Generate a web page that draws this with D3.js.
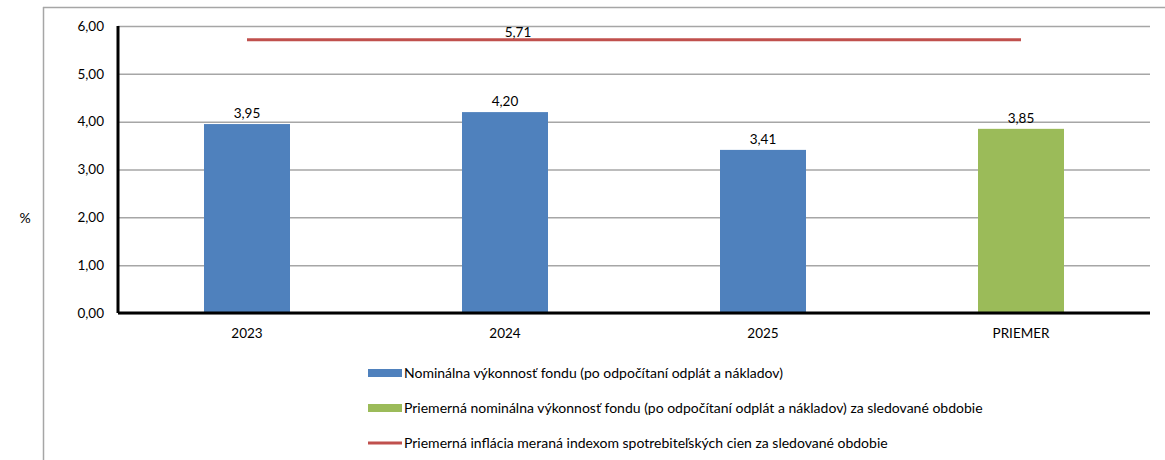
<!DOCTYPE html>
<html>
<head>
  <meta charset="utf-8">
  <script src="https://d3js.org/d3.v7.min.js"></script>
  <style>
    body { margin: 0; background: white; }
    text { font-family: Lato, "Open Sans", sans-serif; fill: #000; }
    .tick text { font-size: 13.5px; }
    .grid line { stroke: #a6a6a6; stroke-width: 1.5px; }
    .legend text { font-size: 14px; }
  </style>
</head>
<body>
  <svg id="chart" width="1165" height="460"></svg>
  <script>
    // chart data
    const categories = ["2023", "2024", "2025", "PRIEMER"];
    const performance = [3.95, 4.20, 3.41, 3.85];
    const barColors = ["#4F81BD", "#4F81BD", "#4F81BD", "#9BBB59"];
    const inflation = 5.71;
    const yTicks = [0, 1, 2, 3, 4, 5, 6];
    const legendItems = [
      { label: "Nominálna výkonnosť fondu (po odpočítaní odplát a nákladov)", type: "rect", color: "#4F81BD" },
      { label: "Priemerná nominálna výkonnosť fondu (po odpočítaní odplát a nákladov) za sledované obdobie", type: "rect", color: "#9BBB59" },
      { label: "Priemerná inflácia meraná indexom spotrebiteľských cien za sledované obdobie", type: "line", color: "#C0504D" }
    ];

    const svg = d3.select("#chart");
    const margin = { top: 26, left: 118, right: 15, bottom: 147 };
    const width = 1165 - margin.left - margin.right;
    const height = 460 - margin.top - margin.bottom;
    const fmt = v => d3.format(".2f")(v).replace(".", ",");

    // outer frame (left + top)
    svg.append("line").attr("x1", 43.5).attr("x2", 43.5).attr("y1", 7).attr("y2", 460)
      .attr("stroke", "#a6a6a6").attr("stroke-width", 1.5);
    svg.append("line").attr("x1", 43).attr("x2", 1165).attr("y1", 7.5).attr("y2", 7.5)
      .attr("stroke", "#a6a6a6").attr("stroke-width", 1.5);

    const g = svg.append("g").attr("transform", `translate(${margin.left},${margin.top})`);

    const x = d3.scaleBand().domain(categories).range([0, width]).padding(0);
    const y = d3.scaleLinear().domain([0, 6]).range([height, 0]);

    // gridlines
    g.append("g").attr("class", "grid")
      .call(d3.axisLeft(y).tickValues(yTicks).tickSize(-width).tickFormat(""))
      .call(s => s.select(".domain").remove());

    // y axis labels
    g.append("g")
      .call(d3.axisLeft(y).tickValues(yTicks).tickSize(0).tickPadding(14).tickFormat(fmt))
      .call(s => s.select(".domain").remove());

    const barW = x.bandwidth() / 3;

    g.selectAll("rect.bar").data(performance)
      .join("rect")
      .attr("class", "bar")
      .attr("x", (d, i) => x(categories[i]) + x.bandwidth() / 2 - barW / 2)
      .attr("y", d => y(d))
      .attr("width", barW)
      .attr("height", d => y(0) - y(d))
      .attr("fill", (d, i) => barColors[i]);

    g.selectAll("text.val").data(performance)
      .join("text")
      .attr("class", "val")
      .attr("x", (d, i) => x(categories[i]) + x.bandwidth() / 2)
      .attr("y", d => y(d) - 6)
      .attr("text-anchor", "middle")
      .style("font-size", "13.5px")
      .text(fmt);

    // inflation line across category centers
    const first = x(categories[0]) + x.bandwidth() / 2;
    const last = x(categories[categories.length - 1]) + x.bandwidth() / 2;
    g.append("line")
      .attr("x1", first).attr("x2", last)
      .attr("y1", y(inflation)).attr("y2", y(inflation))
      .attr("stroke", "#C0504D").attr("stroke-width", 3);
    g.append("text")
      .attr("x", x(categories[1]) + x.bandwidth() / 2 + 13)
      .attr("y", y(inflation) - 3)
      .attr("text-anchor", "middle")
      .style("font-size", "13.5px")
      .text(fmt(inflation));

    // axes lines
    g.append("line").attr("x1", 0).attr("x2", width).attr("y1", height).attr("y2", height)
      .attr("stroke", "#000").attr("stroke-width", 3);
    g.append("line").attr("x1", 0).attr("x2", 0).attr("y1", 0).attr("y2", height)
      .attr("stroke", "#000").attr("stroke-width", 3);

    // x labels
    g.append("g").attr("transform", `translate(0,${height})`)
      .call(d3.axisBottom(x).tickSize(0).tickPadding(15))
      .call(s => s.select(".domain").remove());

    // "%" axis title
    svg.append("text").attr("x", 25).attr("y", 223).attr("text-anchor", "middle")
      .style("font-size", "14px").text("%");

    // legend
    const legend = svg.append("g").attr("class", "legend");
    legendItems.forEach((d, i) => {
      const ly = 373 + i * 35;
      if (d.type === "rect") {
        legend.append("rect").attr("x", 368).attr("y", ly - 4).attr("width", 34).attr("height", 8).attr("fill", d.color);
      } else {
        legend.append("line").attr("x1", 368).attr("x2", 402).attr("y1", ly).attr("y2", ly)
          .attr("stroke", d.color).attr("stroke-width", 3);
      }
      legend.append("text").attr("x", 404).attr("y", ly + 5).text(d.label);
    });
  </script>
</body>
</html>
